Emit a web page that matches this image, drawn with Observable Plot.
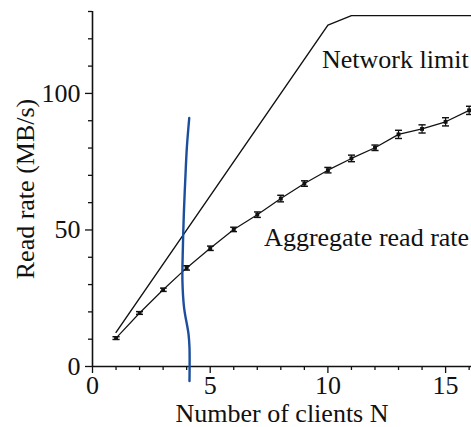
<!DOCTYPE html>
<html>
<head>
<meta charset="utf-8">
<script src="https://cdn.jsdelivr.net/npm/d3@7"></script>
<script src="https://cdn.jsdelivr.net/npm/@observablehq/plot@0.6"></script>
<style>
  html, body { margin: 0; padding: 0; background: #fff; overflow: hidden; }
  svg { display: block; overflow: visible; }
</style>
</head>
<body>
<div id="chart"></div>
<script>
// Data
const clients = [1, 2, 3, 4, 5, 6, 7, 8, 9, 10, 11, 12, 13, 14, 15, 16];
const aggregateRate = [10.4, 19.6, 28.1, 36.1, 43.3, 50.2, 55.6, 61.5, 67.0, 71.9, 76.2, 80.1, 85.0, 87.0, 89.6, 93.8];
const aggregateErr = [0.5, 0.5, 0.6, 0.8, 0.8, 0.8, 1.0, 1.2, 1.0, 1.0, 1.2, 1.0, 1.5, 1.5, 1.5, 1.5];

const limitClients = [1, 10, 11, 16.1];
const limitRate = [12.5, 125, 128.5, 128.5];

// hand-drawn blue pen stroke
const penX = [4.11, 4.01, 3.94, 3.88, 3.84, 3.82, 3.89, 4.08, 4.12, 4.12];
const penY = [91, 80.4, 68.2, 56, 43.7, 31.4, 21.6, 11.8, 6.9, -5.3];

const xTicks = [0, 5, 10, 15];
const xMinorTicks = [1, 2, 3, 4, 6, 7, 8, 9, 11, 12, 13, 14, 16];
const yTicks = [0, 50, 100];
const yMinorTicks = [10, 20, 30, 40, 60, 70, 80, 90, 110, 120, 130];

const labelText = ["Network limit", "Aggregate read rate"];
const labelX = [9.75, 7.29];
const labelY = [109.2, 44.3];

const xTitle = "Number of clients N";
const yTitle = "Read rate (MB/s)";

const aggregate = clients.map((n, i) => ({n, rate: aggregateRate[i], lo: aggregateRate[i] - aggregateErr[i], hi: aggregateRate[i] + aggregateErr[i]}));
const limit = limitClients.map((n, i) => ({n, rate: limitRate[i]}));
const pen = penX.map((x, i) => ({x, y: penY[i]}));
const labels = labelText.map((t, i) => ({t, x: labelX[i], y: labelY[i]}));

const ink = "#111";

const chart = Plot.plot({
  width: 471,
  height: 427,
  marginLeft: 92,
  marginRight: 0,
  marginTop: 11,
  marginBottom: 61,
  x: {domain: [0, 16.1]},
  y: {domain: [0, 130]},
  style: {fontFamily: "'Liberation Serif', 'Times New Roman', serif", color: ink, background: "#fff"},
  marks: [
    Plot.axisX({ticks: xTicks, tickSize: 7, tickPadding: 2, fontSize: 26, label: null, strokeWidth: 1.3, stroke: ink, fill: ink}),
    Plot.axisX({ticks: xMinorTicks, tickSize: 4, text: null, label: null, strokeWidth: 1.3, stroke: ink}),
    Plot.axisY({ticks: yTicks, tickSize: 7, tickPadding: 5, fontSize: 26, label: null, strokeWidth: 1.3, stroke: ink, fill: ink}),
    Plot.axisY({ticks: yMinorTicks, tickSize: 4, text: null, label: null, strokeWidth: 1.3, stroke: ink}),
    Plot.ruleY([0], {stroke: ink, strokeWidth: 1.6}),
    Plot.ruleX([0], {stroke: ink, strokeWidth: 1.6}),
    Plot.line(limit, {x: "n", y: "rate", stroke: ink, strokeWidth: 1.4}),
    Plot.line(aggregate, {x: "n", y: "rate", stroke: ink, strokeWidth: 1.2}),
    Plot.link(aggregate, {x1: "n", x2: "n", y1: "lo", y2: "hi", stroke: ink, strokeWidth: 1.2, marker: "tick"}),
    Plot.dot(aggregate, {x: "n", y: "rate", symbol: "square", r: 2.2, fill: ink}),
    Plot.text(labels, {x: "x", y: "y", text: "t", textAnchor: "start", lineAnchor: "bottom", fontSize: 26, fill: ink}),
    Plot.text([xTitle], {frameAnchor: "bottom", dy: 55, lineAnchor: "bottom", fontSize: 26, fill: ink}),
    Plot.text([yTitle], {frameAnchor: "left", dx: -59, rotate: -90, textAnchor: "middle", lineAnchor: "bottom", fontSize: 26, fill: ink}),
    Plot.line(pen, {x: "x", y: "y", curve: "catmull-rom", stroke: "#1b4f9e", strokeWidth: 2.4, clip: false})
  ]
});
document.getElementById("chart").appendChild(chart);
</script>
</body>
</html>
